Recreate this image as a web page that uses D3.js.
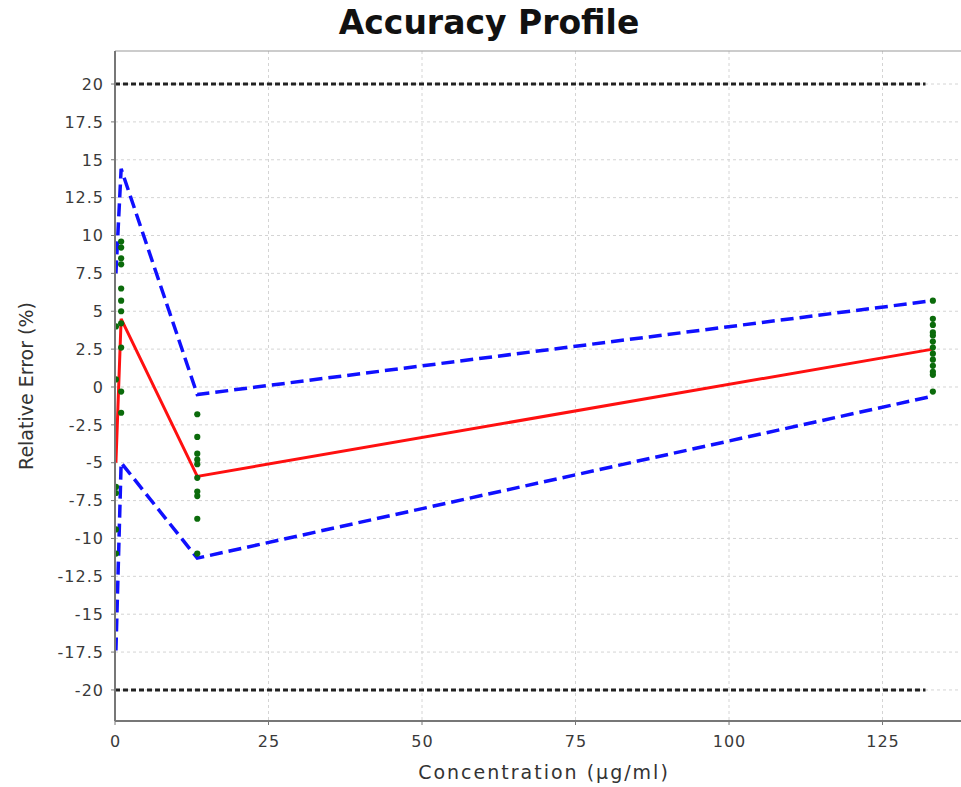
<!doctype html>
<html>
  <head>
    <script src="https://cdn.jsdelivr.net/npm/d3@7/dist/d3.min.js"></script>
    <style>
      body { margin: 0; background: #fff; }
      text { font-family: "DejaVu Sans", sans-serif; }
      .tick-label { font-size: 16px; fill: #3a3a3a; letter-spacing: 1px; }
      .axis-label { fill: #333; }
    </style>
  </head>
  <body>
    <svg id="chart" width="961" height="787"></svg>
    <script>
      // concentration levels (µg/ml) and the profile values at each level
      var concentrations = [0.15, 1.0, 13.4, 133.2];
      var meanBias = [-5.0, 4.5, -5.9, 2.5];
      var upperTol = [7.5, 14.4, -0.5, 5.7];
      var lowerTol = [-17.4, -5.0, -11.3, -0.6];

      // acceptance limits
      var acceptLimits = [20, -20];
      var acceptRange = [0, 132];

      // individual relative errors per level
      var level1 = [4.0, 0.5, -6.6, -7.0, -9.4, -11.0];
      var level2 = [9.6, 9.2, 8.5, 8.1, 6.5, 5.7, 5.0, 4.2, 2.6, -0.3, -1.7];
      var level3 = [-1.8, -3.3, -4.4, -4.8, -5.1, -6.0, -6.9, -7.2, -8.7, -11.0];
      var level4 = [5.7, 4.5, 4.1, 3.6, 3.4, 3.0, 2.6, 2.2, 1.8, 1.4, 1.0, 0.8, -0.3];
      var pointsByLevel = [level1, level2, level3, level4];

      var xTicks = [0, 25, 50, 75, 100, 125];
      var yTicks = d3.range(-20, 20.01, 2.5);

      var plotLeft = 115, plotRight = 960.5, plotTop = 51, plotBottom = 721;

      var svg = d3.select("#chart");

      var x = d3.scaleLinear().domain([0, 137.7]).range([plotLeft, plotRight]);
      var y = d3.scaleLinear().domain([-22.05, 22.18]).range([plotBottom, plotTop]);

      svg.append("defs").append("clipPath")
        .attr("id", "plotClip")
        .append("rect")
          .attr("x", plotLeft).attr("y", plotTop)
          .attr("width", plotRight - plotLeft).attr("height", plotBottom - plotTop);

      // gridlines
      var grid = svg.append("g");
      grid.selectAll("line.gy")
        .data(yTicks)
        .enter()
        .append("line")
          .attr("x1", plotLeft).attr("x2", 961)
          .attr("y1", d => y(d)).attr("y2", d => y(d))
          .style("stroke", "#d4d4d4")
          .style("stroke-dasharray", "3,3");
      grid.selectAll("line.gx")
        .data(xTicks.slice(1))
        .enter()
        .append("line")
          .attr("x1", d => x(d)).attr("x2", d => x(d))
          .attr("y1", plotTop).attr("y2", plotBottom)
          .style("stroke", "#d4d4d4")
          .style("stroke-dasharray", "3,3");

      // plot outline (top)
      svg.append("line")
        .attr("x1", plotLeft).attr("x2", 961)
        .attr("y1", plotTop).attr("y2", plotTop)
        .style("stroke", "#999")
        .style("stroke-width", 1);

      var plot = svg.append("g").attr("clip-path", "url(#plotClip)");

      // acceptance limits
      plot.selectAll("line.limit")
        .data(acceptLimits)
        .enter()
        .append("line")
          .attr("class", "limit")
          .attr("x1", x(acceptRange[0])).attr("x2", x(acceptRange[1]))
          .attr("y1", d => y(d)).attr("y2", d => y(d))
          .style("stroke", "#222")
          .style("stroke-width", 3)
          .style("stroke-dasharray", "5,3");

      var line = d3.line()
        .x(d => x(d[0]))
        .y(d => y(d[1]));

      [upperTol, lowerTol].forEach(vals => {
        plot.append("path")
          .datum(concentrations.map((c, i) => [c, vals[i]]))
          .attr("d", line)
          .style("fill", "none")
          .style("stroke", "#1010ff")
          .style("stroke-width", 3.5)
          .style("stroke-dasharray", "13,6");
      });

      plot.append("path")
        .datum(concentrations.map((c, i) => [c, meanBias[i]]))
        .attr("d", line)
        .style("fill", "none")
        .style("stroke", "#ff1010")
        .style("stroke-width", 3);

      var pts = [];
      pointsByLevel.forEach((vals, i) => {
        vals.forEach(v => pts.push([concentrations[i], v]));
      });

      plot.selectAll("circle.pt")
        .data(pts)
        .enter()
        .append("circle")
          .attr("class", "pt")
          .attr("cx", d => x(d[0]))
          .attr("cy", d => y(d[1]))
          .attr("r", 3.1)
          .style("fill", "#0b6b0b");

      // axes
      svg.append("line")
        .attr("x1", plotLeft).attr("x2", plotLeft)
        .attr("y1", plotTop).attr("y2", plotBottom)
        .style("stroke", "#777").style("stroke-width", 2);
      svg.append("line")
        .attr("x1", plotLeft).attr("x2", 961)
        .attr("y1", plotBottom).attr("y2", plotBottom)
        .style("stroke", "#777").style("stroke-width", 2);

      svg.selectAll("line.ytick")
        .data(yTicks)
        .enter()
        .append("line")
          .attr("x1", plotLeft - 4).attr("x2", plotLeft)
          .attr("y1", d => y(d)).attr("y2", d => y(d))
          .style("stroke", "#777");
      svg.selectAll("text.ylab")
        .data(yTicks)
        .enter()
        .append("text")
          .attr("class", "tick-label")
          .attr("x", plotLeft - 11)
          .attr("y", d => y(d))
          .attr("dy", "0.36em")
          .style("text-anchor", "end")
          .text(d => String(d));

      svg.selectAll("line.xtick")
        .data(xTicks)
        .enter()
        .append("line")
          .attr("x1", d => x(d)).attr("x2", d => x(d))
          .attr("y1", plotBottom).attr("y2", plotBottom + 4)
          .style("stroke", "#777");
      svg.selectAll("text.xlab")
        .data(xTicks)
        .enter()
        .append("text")
          .attr("class", "tick-label")
          .attr("x", d => x(d) + 0.5)
          .attr("y", plotBottom + 26)
          .style("text-anchor", "middle")
          .text(d => String(d));

      svg.append("text")
        .attr("class", "axis-label")
        .attr("x", 544)
        .attr("y", 779)
        .style("text-anchor", "middle")
        .style("font-size", "19px")
        .style("letter-spacing", "2px")
        .text("Concentration (µg/ml)");

      svg.append("text")
        .attr("class", "axis-label")
        .attr("transform", "translate(33," + ((plotTop + plotBottom) / 2) + ") rotate(-90)")
        .style("text-anchor", "middle")
        .style("font-size", "19px")
        .text("Relative Error (%)");

      svg.append("text")
        .attr("x", 489)
        .attr("y", 34)
        .style("text-anchor", "middle")
        .style("font-size", "33px")
        .style("font-weight", "bold")
        .style("fill", "#111")
        .text("Accuracy Profile");
    </script>
  </body>
</html>
